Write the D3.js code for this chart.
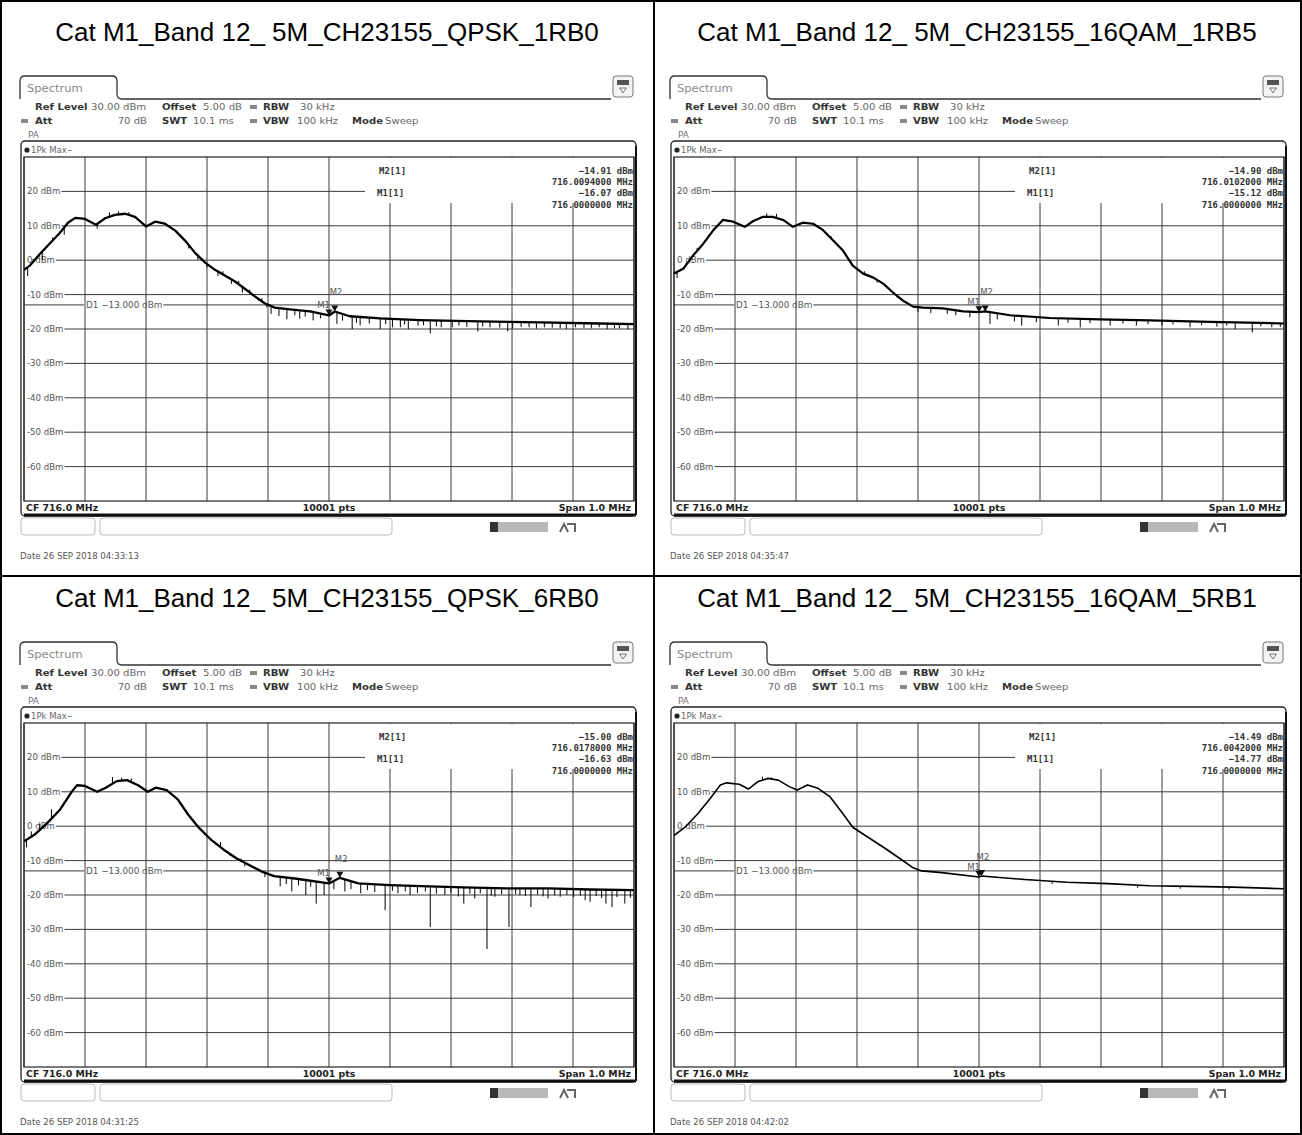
<!DOCTYPE html>
<html>
<head>
<meta charset="utf-8">
<script src="https://cdn.jsdelivr.net/npm/d3@7"></script>
<style>
  body { margin: 0; background: #fff; }
  svg { display: block; }
</style>
</head>
<body>
<svg id="chart" width="1302" height="1135"></svg>
<script>
// ---- measurement settings shared by the four sweeps ----
const centerMHz = 716.0;
const spanMHz = 1.0;
const refLevel = 30;          // dBm, top of the display
const displayRange = 100;     // dB over ten divisions
const limitLevel = -13;       // D1 display line, dBm
const levelTicks = [20, 10, 0, -10, -20, -30, -40, -50, -60];
const sweepPoints = 10001;

// ---- per-sweep headings and timestamps ----
const panelTitles = [
  "Cat M1_Band 12_ 5M_CH23155_QPSK_1RB0",
  "Cat M1_Band 12_ 5M_CH23155_16QAM_1RB5",
  "Cat M1_Band 12_ 5M_CH23155_QPSK_6RB0",
  "Cat M1_Band 12_ 5M_CH23155_16QAM_5RB1"
];
const sweepDates = [
  "26 SEP 2018  04:33:13",
  "26 SEP 2018  04:35:47",
  "26 SEP 2018  04:31:25",
  "26 SEP 2018  04:42:02"
];

// ---- marker readouts ----
const m1Freq  = [716.0, 716.0, 716.0, 716.0];
const m1Level = [-16.07, -15.12, -16.63, -14.77];
const m2Freq  = [716.0094, 716.0102, 716.0178, 716.0042];
const m2Level = [-14.91, -14.90, -15.00, -14.49];

// ---- traces (MHz, dBm) ----
const trace1Freq  = [715.500, 715.510, 715.526, 715.543, 715.559, 715.572, 715.584, 715.600, 715.618, 715.633, 715.649, 715.666, 715.682, 715.700, 715.715, 715.731, 715.748, 715.764, 715.780, 715.797, 715.813, 715.830, 715.846, 715.862, 715.879, 715.895, 715.911, 715.936, 715.969, 716.000, 716.0094, 716.034, 716.084, 716.149, 716.248, 716.346, 716.444, 716.500];
const trace1Level = [-2.8, -1.5, 1.8, 5.0, 8.0, 10.9, 12.3, 12.0, 10.3, 12.2, 13.2, 13.5, 12.6, 9.8, 11.2, 10.6, 8.6, 5.7, 2.2, -0.7, -2.8, -4.5, -6.2, -8.3, -10.6, -12.6, -13.8, -14.3, -14.9, -16.07, -14.91, -16.3, -16.9, -17.4, -17.8, -18.1, -18.4, -18.6];
// short excursions of the peak-hold trace away from its mean course
const spike1Freq  = [715.506, 715.515, 715.530, 715.547, 715.566, 715.620, 715.640, 715.655, 715.672, 715.690, 715.770, 715.785, 715.800, 715.818, 715.826, 715.840, 715.852, 715.858, 715.870, 715.884, 715.890, 715.898,
                     715.905, 715.918, 715.931, 715.944, 715.952, 715.961, 715.974, 715.986, 716.013, 716.022, 716.038, 716.045, 716.051, 716.066, 716.084, 716.093, 716.104, 716.117, 716.124, 716.130, 716.146, 716.155, 716.166, 716.176, 716.184, 716.202, 716.213, 716.226, 716.244, 716.252, 716.264, 716.280, 716.293, 716.301, 716.315, 716.328, 716.340, 716.353, 716.366, 716.379, 716.389, 716.404, 716.418, 716.430, 716.443, 716.456, 716.468, 716.476, 716.490];
const spike1Level = [-4.6, 0.4, 0.0, 6.6, 7.4, 9.2, 13.9, 14.2, 14.0, 11.3, 3.4, 0.1, -2.1, -4.6, -3.2, -6.9, -6.0, -9.4, -8.6, -11.7, -11.0, -13.7,
                     -15.6, -16.2, -17.2, -16.0, -17.0, -16.4, -17.5, -16.9, -18.5, -17.6, -20.0, -18.2, -19.0, -18.4, -20.0, -18.6, -19.5, -19.5, -18.7, -20.0, -19.0, -18.9, -21.3, -19.2, -19.5, -19.5, -19.0, -19.4, -20.7, -19.3, -19.5, -19.6, -20.7, -19.8, -19.4, -19.5, -19.9, -19.5, -19.6, -19.8, -20.0, -19.5, -19.7, -19.8, -19.5, -20.0, -19.8, -19.8, -20.1];

const trace2Freq  = [715.500, 715.515, 715.531, 715.548, 715.564, 715.580, 715.597, 715.616, 715.630, 715.646, 715.662, 715.679, 715.695, 715.711, 715.728, 715.744, 715.761, 715.777, 715.793, 715.810, 715.826, 715.843, 715.859, 715.875, 715.892, 715.908, 715.941, 715.974, 716.000, 716.0102, 716.051, 716.116, 716.198, 716.280, 716.379, 716.500];
const trace2Level = [-3.9, -2.5, 1.3, 4.8, 8.6, 11.7, 11.2, 9.7, 11.4, 12.6, 12.6, 11.7, 9.7, 10.9, 10.6, 8.8, 5.7, 2.8, -1.6, -3.9, -5.0, -6.8, -9.4, -11.7, -13.5, -13.8, -14.0, -14.9, -15.12, -14.90, -16.0, -16.8, -17.2, -17.5, -17.9, -18.4];
const spike2Freq  = [715.505, 715.520, 715.538, 715.556, 715.652, 715.668, 715.758, 715.790, 715.812, 715.833, 715.850, 715.866, 715.880, 715.900,
                     715.921, 715.948, 715.962, 715.985, 716.018, 716.030, 716.058, 716.070, 716.094, 716.130, 716.146, 716.166, 716.182, 716.215, 716.236, 716.258, 716.277, 716.300, 716.318, 716.346, 716.365, 716.390, 716.406, 716.420, 716.448, 716.462, 716.480, 716.494];
const spike2Level = [-5.2, -0.8, 3.6, 7.2, 13.6, 13.5, 6.9, -0.2, -3.2, -6.5, -8.0, -11.0, -12.4, -15.0,
                     -15.4, -15.6, -16.0, -16.6, -18.5, -17.2, -17.8, -19.0, -18.0, -19.0, -18.2, -19.5, -18.3, -19.0, -18.4, -19.0, -18.6, -19.0, -18.7, -19.5, -18.9, -19.3, -19.0, -20.0, -21.0, -19.2, -19.5, -19.4];

const trace3Freq  = [715.500, 715.517, 715.538, 715.559, 715.579, 715.587, 715.600, 715.620, 715.634, 715.652, 715.669, 715.687, 715.703, 715.716, 715.734, 715.752, 715.769, 715.787, 715.807, 715.828, 715.848, 715.869, 715.890, 715.910, 715.944, 716.000, 716.0178, 716.048, 716.100, 716.151, 716.221, 716.290, 716.359, 716.428, 716.500];
const trace3Level = [-4.4, -2.5, 0.9, 4.8, 10.2, 11.9, 11.7, 10.0, 11.2, 13.1, 13.4, 11.9, 10.0, 11.2, 10.5, 7.8, 3.4, -0.5, -4.0, -6.9, -9.3, -11.3, -13.2, -14.5, -15.2, -16.63, -15.00, -16.6, -17.1, -17.4, -17.8, -18.1, -18.1, -18.4, -18.6];
const spike3Freq  = [715.504, 715.512, 715.526, 715.545, 715.566, 715.645, 715.660, 715.676, 715.760, 715.778, 715.795, 715.815, 715.822, 715.838, 715.856, 715.862, 715.878, 715.895,
                     715.920, 715.930, 715.939, 715.950, 715.962, 715.970, 715.979, 715.992, 716.008, 716.026, 716.036, 716.052, 716.063, 716.075, 716.092, 716.104, 716.113, 716.125, 716.133, 716.145, 716.158, 716.166, 716.176, 716.190, 716.200, 716.212, 716.221, 716.231, 716.239, 716.248, 716.259, 716.266, 716.272, 716.283, 716.295, 716.306, 716.313, 716.322, 716.331, 716.342, 716.351, 716.359, 716.370, 716.379, 716.390, 716.401, 716.412, 716.420, 716.428, 716.438, 716.447, 716.454, 716.464, 716.472, 716.485, 716.494];
const spike3Level = [-6.2, -1.5, 0.6, 4.9, 7.0, 14.3, 14.1, 13.9, 6.3, 1.9, -1.9, -5.6, -4.6, -8.6, -9.4, -11.7, -12.1, -14.8,
                     -17.5, -16.8, -19.0, -17.2, -20.0, -17.6, -22.5, -20.0, -18.4, -19.0, -18.3, -19.5, -18.6, -19.2, -24.4, -18.8, -19.5, -18.9, -20.0, -19.4, -19.0, -29.3, -19.6, -20.0, -19.3, -20.4, -22.5, -19.6, -21.0, -19.5, -35.7, -20.2, -20.5, -19.8, -29.3, -19.7, -20.0, -20.3, -23.5, -19.9, -20.4, -21.0, -20.1, -20.5, -20.0, -20.6, -20.2, -21.5, -22.0, -20.3, -20.9, -22.5, -23.5, -20.6, -22.5, -20.8];

const trace4Freq  = [715.500, 715.518, 715.539, 715.559, 715.576, 715.586, 715.607, 715.622, 715.637, 715.654, 715.671, 715.689, 715.702, 715.719, 715.736, 715.756, 715.777, 715.793, 715.818, 715.844, 715.872, 715.892, 715.906, 715.939, 716.000, 716.0042, 716.075, 716.144, 716.211, 716.280, 716.348, 716.416, 716.500];
const trace4Level = [-2.7, -0.3, 3.6, 8.0, 12.0, 12.6, 12.2, 10.8, 12.9, 13.9, 13.4, 11.5, 10.5, 12.0, 11.0, 8.5, 3.6, -0.3, -3.2, -6.2, -9.6, -12.1, -13.0, -13.5, -14.77, -14.49, -15.5, -16.3, -16.7, -17.3, -17.5, -17.7, -18.2];
const spike4Freq  = [715.645, 715.660, 716.120, 716.260, 716.330, 716.410];
const spike4Level = [14.4, 14.2, -16.8, -17.9, -18.2, -18.4];

const traceFreqs  = [trace1Freq, trace2Freq, trace3Freq, trace4Freq];
const traceLevels = [trace1Level, trace2Level, trace3Level, trace4Level];
const spikeFreqs  = [spike1Freq, spike2Freq, spike3Freq, spike4Freq];
const spikeLevels = [spike1Level, spike2Level, spike3Level, spike4Level];

// ---- layout ----
const panelOffsets = [[0, 0], [650, 0], [0, 566], [650, 566]];
const traceWidths = [2.3, 2.2, 2.3, 1.6];
const UI = "DejaVu Sans, Verdana, sans-serif";
const MONO = "DejaVu Sans Mono, monospace";

const svg = d3.select("#chart");

const x = d3.scaleLinear()
  .domain([centerMHz - spanMHz / 2, centerMHz + spanMHz / 2])
  .range([24, 634]);
const y = d3.scaleLinear()
  .domain([refLevel, refLevel - displayRange])
  .range([157, 501]);

// text helper: the analyser font is drawn slightly widened
function label(g, px, py, str, o = {}) {
  return g.append("text")
    .attr("transform", `translate(${px},${py}) scale(${o.kx || 1},1)`)
    .attr("font-family", o.family || UI)
    .attr("font-size", o.size || 9)
    .attr("font-weight", o.bold ? "bold" : "normal")
    .attr("fill", o.fill || "#333")
    .attr("text-anchor", o.anchor || "start")
    .text(str);
}
function textWidth(t, kx) {
  return t.node().getComputedTextLength() * (kx || 1);
}

svg.append("rect").attr("x", 0).attr("y", 0).attr("width", 1302).attr("height", 1135).attr("fill", "#fff");

function drawPanel(i) {
  const [ox, oy] = panelOffsets[i];
  const g = svg.append("g").attr("transform", `translate(${ox},${oy})`);

  // heading
  g.append("text")
    .attr("x", 327).attr("y", 41)
    .attr("text-anchor", "middle")
    .attr("font-family", "Liberation Sans, Arial, sans-serif")
    .attr("font-size", 26)
    .attr("fill", "#000")
    .text(panelTitles[i]);

  // tab + header rule
  g.append("path")
    .attr("d", "M20,99 L20,81 Q20,76 25,76 L112,76 Q117,76 117,81 L117,94 Q117,99 122,99 L611,99")
    .attr("fill", "none").attr("stroke", "#333").attr("stroke-width", 1.3);
  label(g, 27, 92, "Spectrum", { size: 10, fill: "#8a8a8a", kx: 1.15 });

  // top-right icon
  g.append("rect").attr("x", 613).attr("y", 76).attr("width", 20).attr("height", 21).attr("rx", 3)
    .attr("fill", "#f3f3f3").attr("stroke", "#777");
  g.append("rect").attr("x", 617).attr("y", 80).attr("width", 12).attr("height", 5).attr("fill", "#555");
  g.append("path").attr("d", "M619.5,88 L626.5,88 L623,93 Z").attr("fill", "none").attr("stroke", "#777");

  // setup header
  const hk = 1.12;
  label(g, 35, 110, "Ref Level", { bold: true, kx: hk });
  label(g, 91, 110, "30.00 dBm", { fill: "#666", kx: hk });
  label(g, 162, 110, "Offset", { bold: true, kx: hk });
  label(g, 203, 110, "5.00 dB", { fill: "#666", kx: hk });
  g.append("rect").attr("x", 250).attr("y", 105).attr("width", 7).attr("height", 4).attr("fill", "#888");
  label(g, 263, 110, "RBW", { bold: true, kx: hk });
  label(g, 300, 110, "30 kHz", { fill: "#666", kx: hk });

  g.append("rect").attr("x", 21).attr("y", 119).attr("width", 7).attr("height", 4).attr("fill", "#888");
  label(g, 35, 124, "Att", { bold: true, kx: hk });
  label(g, 147, 124, "70 dB", { fill: "#666", kx: hk, anchor: "end" });
  label(g, 162, 124, "SWT", { bold: true, kx: hk });
  label(g, 193, 124, "10.1 ms", { fill: "#666", kx: hk });
  g.append("rect").attr("x", 250).attr("y", 119).attr("width", 7).attr("height", 4).attr("fill", "#888");
  label(g, 263, 124, "VBW", { bold: true, kx: hk });
  label(g, 297, 124, "100 kHz", { fill: "#666", kx: hk });
  label(g, 352, 124, "Mode", { bold: true, kx: hk });
  label(g, 385, 124, "Sweep", { fill: "#666", kx: hk });
  label(g, 28, 138, "PA", { size: 8, fill: "#777", kx: hk });

  // diagram frame
  g.append("rect").attr("x", 21).attr("y", 141).attr("width", 615).attr("height", 375).attr("rx", 4)
    .attr("fill", "#fff").attr("stroke", "#222").attr("stroke-width", 1.3);
  g.append("line").attr("x1", 636).attr("y1", 146).attr("x2", 636).attr("y2", 515).attr("stroke", "#111").attr("stroke-width", 2);
  g.append("line").attr("x1", 24).attr("y1", 515).attr("x2", 636).attr("y2", 515).attr("stroke", "#111").attr("stroke-width", 3);

  g.append("circle").attr("cx", 27).attr("cy", 150).attr("r", 2.6).attr("fill", "#222");
  const pk = label(g, 31, 153, "1Pk Max", { size: 8.5, fill: "#666" });
  g.append("line").attr("x1", 31 + textWidth(pk) + 1).attr("x2", 31 + textWidth(pk) + 5)
    .attr("y1", 150.5).attr("y2", 150.5).attr("stroke", "#888");

  // grid
  const grid = g.append("g");
  x.ticks(10).forEach(f => {
    grid.append("line").attr("x1", x(f)).attr("x2", x(f)).attr("y1", y.range()[0]).attr("y2", y.range()[1])
      .attr("stroke", "#3a3a3a").attr("stroke-width", 1);
  });
  const lvlLabels = [];
  levelTicks.forEach(v => {
    const t = label(g, 27, y(v) + 3, `${v} dBm`, { size: 8.6, fill: "#555" });
    lvlLabels.push([v, textWidth(t)]);
  });
  lvlLabels.forEach(([v, w]) => {
    grid.append("line").attr("x1", 27 + w + 1).attr("x2", 634).attr("y1", y(v)).attr("y2", y(v))
      .attr("stroke", "#3a3a3a").attr("stroke-width", 1);
  });
  g.append("rect").attr("x", 24).attr("y", 157).attr("width", 610).attr("height", 344)
    .attr("fill", "none").attr("stroke", "#222").attr("stroke-width", 1.2);

  // marker readout area
  g.append("rect").attr("x", 365).attr("y", 158).attr("width", 268).attr("height", 45).attr("fill", "#fff");
  const mk = { family: MONO, bold: true, size: 9, fill: "#333" };
  label(g, 379, 174, "M2[1]", mk);
  label(g, 633, 174, `${d3.format(".2f")(m2Level[i])} dBm`, { ...mk, anchor: "end" });
  label(g, 633, 185, `${d3.format(".7f")(m2Freq[i])} MHz`, { ...mk, anchor: "end" });
  label(g, 377, 196, "M1[1]", mk);
  label(g, 633, 196, `${d3.format(".2f")(m1Level[i])} dBm`, { ...mk, anchor: "end" });
  label(g, 633, 208, `${d3.format(".7f")(m1Freq[i])} MHz`, { ...mk, anchor: "end" });

  // D1 display line
  const d1 = label(g, 86, y(limitLevel) + 3, `D1  ${d3.format(".3f")(limitLevel)} dBm`, { size: 8.8, fill: "#555" });
  const d1w = textWidth(d1);
  g.append("line").attr("x1", 24).attr("x2", 84).attr("y1", y(limitLevel)).attr("y2", y(limitLevel)).attr("stroke", "#3a3a3a");
  g.append("line").attr("x1", 86 + d1w + 1).attr("x2", 634).attr("y1", y(limitLevel)).attr("y2", y(limitLevel)).attr("stroke", "#3a3a3a");

  // trace
  const clipId = `plotclip${i}`;
  g.append("clipPath").attr("id", clipId).append("rect").attr("x", 24).attr("y", 157).attr("width", 611).attr("height", 344);
  const pts = traceFreqs[i].map((f, k) => [f, traceLevels[i][k]]);
  const tg = g.append("g").attr("clip-path", `url(#${clipId})`);
  tg.append("path")
    .attr("d", d3.line().x(d => x(d[0])).y(d => y(d[1]))(pts))
    .attr("fill", "none").attr("stroke", "#000").attr("stroke-width", traceWidths[i]).attr("stroke-linejoin", "round");

  // excursions hung from the trace course
  const bis = d3.bisector(d => d[0]).left;
  function levelAt(f) {
    const k = Math.max(1, Math.min(pts.length - 1, bis(pts, f)));
    const a = pts[k - 1], b = pts[k];
    return a[1] + (b[1] - a[1]) * (f - a[0]) / (b[0] - a[0]);
  }
  spikeFreqs[i].forEach((f, k) => {
    tg.append("line").attr("x1", x(f)).attr("x2", x(f))
      .attr("y1", y(levelAt(f))).attr("y2", y(spikeLevels[i][k]))
      .attr("stroke", "#000").attr("stroke-width", 1);
  });

  // markers
  const tri = (cx, cy) => `M${cx - 3.5},${cy - 6} L${cx + 3.5},${cy - 6} L${cx},${cy} Z`;
  g.append("path").attr("d", tri(x(m1Freq[i]), y(m1Level[i]))).attr("fill", "#111");
  g.append("path").attr("d", tri(x(m2Freq[i]), y(m2Level[i]))).attr("fill", "#111");
  label(g, x(m1Freq[i]) + 1, y(m1Level[i]) - 7, "M1", { size: 8.5, fill: "#555", anchor: "end" });
  label(g, x(m2Freq[i]) - 5, y(m2Level[i]) - 16, "M2", { size: 8.5, fill: "#555" });

  // bottom bar
  label(g, 26, 511, `CF ${d3.format(".1f")(centerMHz)} MHz`, { bold: true, size: 9.4, fill: "#222" });
  label(g, 329, 511, `${sweepPoints} pts`, { bold: true, size: 9.4, fill: "#222", anchor: "middle" });
  label(g, 631, 511, `Span ${d3.format(".1f")(spanMHz)} MHz`, { bold: true, size: 9.4, fill: "#222", anchor: "end" });

  // status line
  g.append("rect").attr("x", 21).attr("y", 518).attr("width", 74).attr("height", 17).attr("rx", 3)
    .attr("fill", "none").attr("stroke", "#bbb");
  g.append("rect").attr("x", 100).attr("y", 518).attr("width", 292).attr("height", 17).attr("rx", 3)
    .attr("fill", "none").attr("stroke", "#bbb");
  g.append("rect").attr("x", 490).attr("y", 522).attr("width", 58).attr("height", 10).attr("fill", "#b9b9b9");
  g.append("rect").attr("x", 490).attr("y", 522).attr("width", 8).attr("height", 10).attr("fill", "#333");
  g.append("path").attr("d", "M560,532 L564,524 L568,532 M567,524 L575,524 L575,532").attr("fill", "none")
    .attr("stroke", "#666").attr("stroke-width", 2);

  label(g, 20, 559, `Date  ${sweepDates[i]}`, { size: 8.6, fill: "#555" });
}

d3.range(4).forEach(drawPanel);

// table rules
svg.append("rect").attr("x", 1).attr("y", 1).attr("width", 1300).attr("height", 1133)
  .attr("fill", "none").attr("stroke", "#000").attr("stroke-width", 2);
svg.append("line").attr("x1", 654).attr("x2", 654).attr("y1", 0).attr("y2", 1135).attr("stroke", "#000").attr("stroke-width", 2);
svg.append("line").attr("x1", 0).attr("x2", 1302).attr("y1", 576).attr("y2", 576).attr("stroke", "#000").attr("stroke-width", 2);
</script>
</body>
</html>
